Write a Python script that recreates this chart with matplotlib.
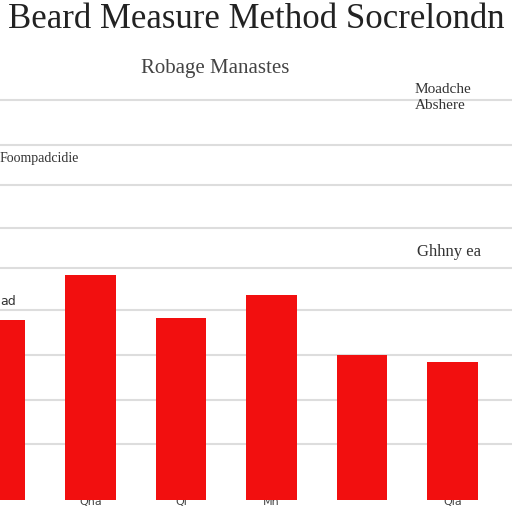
import matplotlib
matplotlib.use("Agg")
import matplotlib.pyplot as plt

categories = ["A", "B", "C", "D", "E", "F"]
values = [180, 225, 182, 205, 145, 138]
tick_labels = ["", "Qna", "Ql", "Mn", "", "Qla"]

fig = plt.figure(figsize=(5.12, 5.12), dpi=100)
ax = fig.add_axes([0, 12/512, 1, 500/512])
ax.bar(range(len(values)), values, width=0.56, color="#f20f0f", zorder=3)
ax.set_xlim(0.256, 5.66)
ax.set_ylim(0, 500)
ax.set_yticks([56, 100, 145, 190, 232, 272, 315, 355, 400])
ax.set_yticklabels([])
ax.grid(axis="y", color="#dddddd", linewidth=1.5, zorder=0)
ax.set_xticks(range(len(values)))
ax.set_xticklabels(tick_labels, fontsize=8, color="#444444")
ax.tick_params(length=0, pad=-2)
for s in ax.spines.values():
    s.set_visible(False)

fig.text(0.5, 0.945, "Beard Measure Method Socrelondn", ha="center", fontsize=25,
         family="Liberation Serif", color="#222222")
fig.text(0.42, 0.858, "Robage Manastes", ha="center", fontsize=15,
         family="Liberation Serif", color="#444444")
fig.text(0.81, 0.81, "Moadche\nAbshere", ha="left", fontsize=11,
         family="Liberation Serif", color="#333333", va="center", linespacing=1.3)
fig.text(0.0, 0.683, "Foompadcidie", ha="left", fontsize=10,
         family="Liberation Serif", color="#333333")
fig.text(0.815, 0.5, "Ghhny ea", ha="left", fontsize=12,
         family="Liberation Serif", color="#333333")
fig.text(0.0, 0.405, "ad", ha="left", fontsize=9, color="#333333")
fig.savefig("out.png")
